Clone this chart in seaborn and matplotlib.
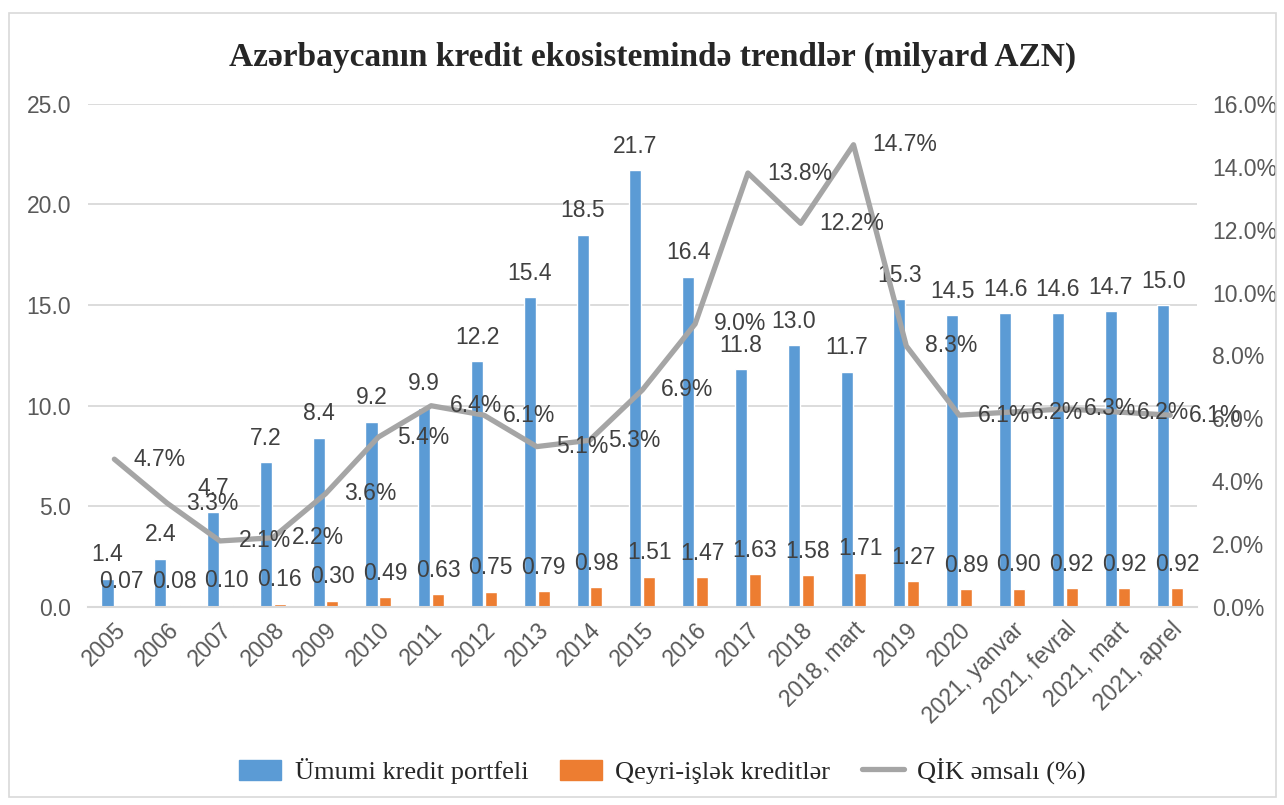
import numpy as np
import pandas as pd
import seaborn as sns
import matplotlib.pyplot as plt
from matplotlib.patches import Patch, Rectangle
from matplotlib.lines import Line2D
from matplotlib.ticker import FuncFormatter

# data
periods = ['2005', '2006', '2007', '2008', '2009', '2010', '2011', '2012', '2013',
           '2014', '2015', '2016', '2017', '2018', '2018, mart', '2019', '2020',
           '2021, yanvar', '2021, fevral', '2021, mart', '2021, aprel']
total_portfolio = [1.4, 2.4, 4.7, 7.2, 8.4, 9.2, 9.9, 12.2, 15.4, 18.5, 21.7, 16.4,
                   11.8, 13.0, 11.7, 15.3, 14.5, 14.6, 14.6, 14.7, 15.0]
npl_loans = [0.07, 0.08, 0.10, 0.16, 0.30, 0.49, 0.63, 0.75, 0.79, 0.98, 1.51, 1.47,
             1.63, 1.58, 1.71, 1.27, 0.89, 0.90, 0.92, 0.92, 0.92]
npl_ratio = [4.7, 3.3, 2.1, 2.2, 3.6, 5.4, 6.4, 6.1, 5.1, 5.3, 6.9, 9.0,
             13.8, 12.2, 14.7, 8.3, 6.1, 6.2, 6.3, 6.2, 6.1]

s_total = 'Ümumi kredit portfeli'
s_npl = 'Qeyri-işlək kreditlər'
s_ratio = 'QİK əmsalı (%)'

blue = '#5B9BD5'
orange = '#ED7D31'
grey = '#A5A5A5'
txt = '#595959'
fs = 16.5

sns.set_style('white')
plt.rcParams['font.family'] = ['Liberation Sans', 'DejaVu Sans']

df = pd.DataFrame({
    'period': periods * 2,
    'value': total_portfolio + npl_loans,
    'series': [s_total] * len(periods) + [s_npl] * len(periods),
})

fig = plt.figure(figsize=(12.84, 8.05), dpi=100)
ax = fig.add_axes([0.0685, 0.246, 0.8635, 0.625])

sns.barplot(data=df, x='period', y='value', hue='series', palette=[blue, orange],
            width=0.52, gap=0.12, saturation=1, legend=False, ax=ax)

ax.set_xlim(-0.5, len(periods) - 0.5)
ax.set_ylim(0, 25)
ax.set_yticks(np.arange(0, 26, 5))
ax.yaxis.set_major_formatter(FuncFormatter(lambda v, p: f'{v:.1f}'))
ax.set_xlabel('')
ax.set_ylabel('')
ax.grid(axis='y', color='#d9d9d9', lw=1.3)
ax.set_axisbelow(True)
for s in ['top', 'left', 'right']:
    ax.spines[s].set_visible(False)
ax.spines['bottom'].set_color('#d9d9d9')
ax.spines['bottom'].set_linewidth(1.5)
ax.tick_params(axis='y', length=0, labelsize=fs, colors=txt, pad=12)
ax.tick_params(axis='x', length=0, labelsize=fs, colors=txt, pad=8)
plt.setp(ax.get_xticklabels(), rotation=45, ha='right', rotation_mode='anchor')

ax.bar_label(ax.containers[0], labels=[f'{v:.1f}' for v in total_portfolio],
             padding=9, fontsize=fs, color='#404040')
ax.bar_label(ax.containers[1], labels=[f'{v:.2f}' for v in npl_loans],
             padding=9, fontsize=fs, color='#404040')

ax2 = ax.twinx()
sns.lineplot(x=np.arange(len(periods)), y=npl_ratio, color=grey, lw=3.8, ax=ax2)
ax2.set_ylim(0, 16)
ax2.set_yticks(np.arange(0, 17, 2))
ax2.yaxis.set_major_formatter(FuncFormatter(lambda v, p: f'{v:.1f}%'))
for s in ['top', 'left', 'right', 'bottom']:
    ax2.spines[s].set_visible(False)
ax2.tick_params(axis='y', length=0, labelsize=fs, colors=txt, pad=11)
for i, v in enumerate(npl_ratio):
    ax2.annotate(f'{v:.1f}%', (i, v), xytext=(19, 0), textcoords='offset pixels',
                 ha='left', va='center', fontsize=fs, color='#404040')

fig.text(0.508, 1 - 57 / 805, 'Azərbaycanın kredit ekosistemində trendlər (milyard AZN)',
         ha='center', va='center', fontsize=24, fontweight='bold',
         family=['Liberation Serif', 'DejaVu Serif'])

handles = [Patch(color=blue, label=s_total), Patch(color=orange, label=s_npl),
           Line2D([], [], color=grey, lw=3.8, label=s_ratio)]
fig.legend(handles=handles, loc='center', bbox_to_anchor=(0.516, 1 - 771 / 805),
           ncol=3, frameon=False, prop={'family': 'Liberation Serif', 'size': 19},
           handlelength=1.6, handleheight=0.8, columnspacing=1.2, handletextpad=0.5)

fig.add_artist(Rectangle((9 / 1284, 8 / 805), 1267 / 1284, 784 / 805,
                         transform=fig.transFigure, fill=False, ec='#d9d9d9', lw=1.2))

fig.savefig('out.png', dpi=100)
